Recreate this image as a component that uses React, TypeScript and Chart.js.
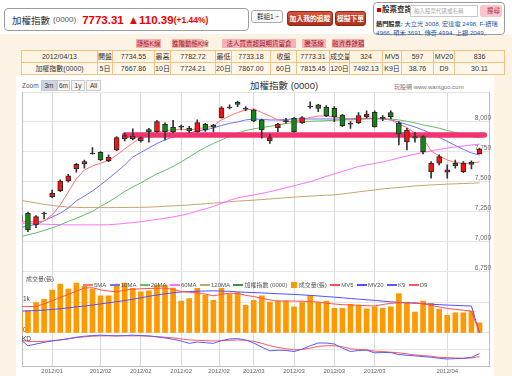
import React, { useEffect, useRef } from 'react';
import { Chart, registerables } from 'chart.js';

Chart.register(...registerables);

// ---------- data ----------
const openP = [7219, 7239, 7142, 7233, 7378, 7428, 7508, 7608, 7650, 7733, 7747, 7678, 7767, 7858, 7858, 7844, 7936, 7919, 7981, 7956, 7956, 7947, 7919, 7981, 7975, 8036, 8117, 8164, 8106, 8100, 8017, 7844, 7953, 8003, 8031, 7994, 8125, 8142, 8125, 8114, 8058, 7981, 7994, 8044, 8081, 8030, 8078, 7989, 7836, 7878, 7878, 7586, 7656, 7581, 7656, 7586, 7664, 7734.55];
const highP = [7235, 7248, 7219, 7248, 7433, 7517, 7564, 7656, 7683, 7786, 7753, 7725, 7878, 7908, 7942, 7875, 7947, 8014, 7992, 8014, 7975, 7964, 8017, 7989, 7981, 8128, 8142, 8175, 8128, 8108, 8025, 7897, 7989, 8031, 8036, 8044, 8169, 8147, 8136, 8128, 8064, 8003, 8078, 8092, 8092, 8053, 8092, 8003, 7947, 7914, 7886, 7669, 7725, 7642, 7683, 7669, 7675, 7782.72];
const lowP = [7160, 7086, 7119, 7192, 7369, 7419, 7497, 7581, 7614, 7731, 7678, 7669, 7760, 7842, 7850, 7831, 7831, 7914, 7850, 7911, 7933, 7911, 7914, 7922, 7917, 8031, 8108, 8128, 8094, 8003, 7864, 7822, 7919, 7989, 7914, 7989, 8114, 8086, 8044, 8003, 7961, 7947, 7986, 8031, 7956, 8011, 8025, 7808, 7767, 7831, 7733, 7531, 7642, 7531, 7614, 7578, 7608, 7733.18];
const closeP = [7175, 7100, 7211, 7241, 7406, 7508, 7550, 7647, 7669, 7741, 7683, 7708, 7869, 7886, 7883, 7869, 7917, 8003, 7919, 7919, 7964, 7925, 7994, 7936, 7956, 8119, 8125, 8147, 8114, 8008, 7933, 7869, 7983, 8011, 7919, 8036, 8133, 8114, 8053, 8044, 7969, 7989, 8053, 8064, 7961, 8038, 8044, 7900, 7933, 7864, 7753, 7656, 7711, 7600, 7636, 7656, 7647, 7773.31];

const ma5 = [7169, 7167, 7167, 7175, 7225, 7308, 7417, 7525, 7600, 7633, 7656, 7679, 7725, 7775, 7825, 7871, 7895, 7915, 7930, 7935, 7940, 7935, 7942, 7954, 7967, 8017, 8050, 8079, 8100, 8108, 8079, 8050, 8017, 8008, 8003, 8021, 8037, 8050, 8050, 8042, 8033, 8017, 8021, 8031, 8031, 8029, 8017, 7983, 7954, 7908, 7867, 7758, 7717, 7683, 7662, 7656, 7656, 7667.86];
const ma10 = [7119, 7133, 7146, 7175, 7208, 7239, 7283, 7342, 7383, 7425, 7475, 7529, 7583, 7642, 7708, 7746, 7783, 7821, 7850, 7875, 7892, 7908, 7925, 7933, 7950, 7971, 7988, 8000, 8017, 8025, 8021, 8017, 8017, 8021, 8025, 8025, 8025, 8025, 8025, 8025, 8025, 8027, 8029, 8031, 8029, 8025, 8017, 8000, 7979, 7958, 7933, 7904, 7871, 7838, 7804, 7771, 7742, 7724.21];
const ma20 = [7044, 7058, 7075, 7096, 7117, 7142, 7171, 7196, 7225, 7254, 7296, 7333, 7375, 7421, 7458, 7492, 7531, 7567, 7596, 7629, 7667, 7708, 7750, 7788, 7821, 7850, 7883, 7908, 7929, 7943, 7954, 7963, 7975, 7988, 7996, 8003, 8006, 8008, 8011, 8014, 8017, 8019, 8022, 8025, 8027, 8027, 8025, 8017, 8006, 7992, 7975, 7963, 7948, 7929, 7912, 7895, 7880, 7867.0];
const ma60 = [7156, 7154, 7150, 7148, 7145, 7143, 7142, 7142, 7142, 7142, 7142, 7143, 7148, 7154, 7161, 7169, 7178, 7188, 7197, 7208, 7221, 7237, 7258, 7275, 7296, 7321, 7346, 7367, 7380, 7392, 7404, 7419, 7435, 7452, 7468, 7486, 7502, 7525, 7547, 7567, 7588, 7608, 7629, 7642, 7654, 7667, 7683, 7700, 7717, 7731, 7746, 7758, 7771, 7782, 7792, 7800, 7808, 7815.45];
const ma120 = [7348, 7336, 7325, 7313, 7304, 7296, 7290, 7288, 7286, 7286, 7286, 7286, 7286, 7287, 7288, 7288, 7290, 7293, 7297, 7300, 7304, 7308, 7313, 7318, 7323, 7329, 7335, 7340, 7344, 7348, 7353, 7358, 7363, 7368, 7373, 7378, 7382, 7386, 7389, 7392, 7400, 7408, 7417, 7425, 7433, 7442, 7448, 7454, 7460, 7467, 7471, 7475, 7478, 7482, 7484, 7487, 7489, 7492.13];

const volume = [700, 733, 990, 1100, 1400, 1600, 1433, 1633, 1522, 1433, 1211, 1211, 1600, 1633, 1456, 1344, 1378, 1567, 1567, 1467, 1044, 1122, 1456, 1233, 1067, 1456, 1267, 1322, 900, 1067, 1211, 1011, 1044, 1044, 856, 990, 1233, 990, 1044, 800, 800, 933, 911, 789, 856, 800, 856, 1289, 990, 678, 1044, 967, 767, 578, 656, 656, 711, 324];
const mv5 = [856, 860, 870, 950, 1050, 1160, 1260, 1370, 1470, 1480, 1410, 1370, 1344, 1400, 1433, 1445, 1456, 1460, 1467, 1420, 1360, 1330, 1310, 1270, 1215, 1260, 1300, 1290, 1230, 1190, 1130, 1080, 1044, 1044, 1044, 1035, 1025, 1011, 970, 945, 925, 915, 900, 890, 880, 930, 965, 990, 990, 990, 950, 900, 850, 800, 770, 740, 711, 0];
const mv20 = [711, 720, 730, 745, 767, 790, 820, 850, 880, 910, 950, 985, 1022, 1060, 1100, 1150, 1200, 1240, 1280, 1315, 1340, 1355, 1365, 1372, 1378, 1370, 1360, 1345, 1330, 1322, 1310, 1295, 1282, 1270, 1262, 1245, 1228, 1210, 1190, 1170, 1150, 1125, 1105, 1085, 1065, 1040, 1018, 1000, 985, 970, 955, 940, 925, 910, 900, 890, 878, 0];
const k9 = [81, 62, 67, 72, 76, 79, 83, 87, 90, 92, 93, 92, 91, 92, 93, 92, 91, 88, 85, 81, 76, 69, 73, 71, 69, 77, 82, 83, 79, 70, 58, 47, 49, 48, 45, 52, 62, 70, 70, 67, 55, 45, 48, 49, 41, 42, 42, 36, 34, 32, 30, 28, 25, 23, 24, 25, 28, 38.76];
const d9 = [77, 75, 74, 75, 77, 79, 82, 86, 88, 90, 91, 91, 91, 91, 91, 91, 90, 89, 87, 85, 82, 79, 78, 77, 76, 77, 78, 79, 78, 75, 69, 62, 57, 53, 50, 51, 55, 60, 62, 62, 59, 53, 51, 50, 46, 45, 43, 41, 38, 35, 33, 31, 28, 27, 26, 25, 26, 30.11];

// drawn horizontal marker (user drawing)
const bandLevel = 7892;
const bandFrom = 13.0;
const bandTo = 57.6;

const xTickPos = [4, 10, 15, 20, 24.7, 29, 34, 39, 44, 53];
const xTickLabels = ['2012/01', '2012/02', '2012/02', '2012/02', '2012/02', '2012/03', '2012/03', '2012/03', '2012/03', '2012/04'];
const priceTicks = [6750, 7000, 7250, 7500, 7750, 8000, 8250];
const priceTickLabels = ['6,750', '7,000', '7,250', '7,500', '7,750', '8,000', ''];
const volTicks = [0, 1000];
const volTickLabels = ['0k', '1k'];
const kdTicks = [50];

const maNames = ['5MA', '10MA', '20MA', '60MA', '120MA'];
const maColors = ['#ff7373', '#7070ff', '#66bb66', '#ff70ff', '#c9a26e'];

const infoRow1 = ['2012/04/13', '開盤', '7734.55', '最高', '7782.72', '最低', '7733.18', '收盤', '7773.31', '成交量', '324', 'MV5', '597', 'MV20', '836'];
const infoRow2 = ['加權指數(0000)', '5日', '7667.86', '10日', '7724.21', '20日', '7867.00', '60日', '7815.45', '120日', '7492.13', 'K9日', '38.76', 'D9', '30.11'];
const infoColW = [75, 14, 41, 15, 44, 15, 38, 25, 32, 19, 32, 18, 31, 20, 49];

const tabs = ['靜態K線', '進階動態K線', '法人買賣超與期貨留倉', '騰落線', '融資券餘額'];
const tabLeft = [136, 172, 222, 302, 332];
const tabW = [25, 31, 74, 24, 32];

// ---------- layout helpers ----------
const PLOT_H = 275; // px
// [top px, bottom px] of each pane inside the plot
const pricePane = [0, 180];
const volPane = [180, 241];
const kdPane = [241, 275];
function paneRange(lo: number, hi: number, pane: number[]) {
  const per = (hi - lo) / (pane[1] - pane[0]);
  return { min: lo - (PLOT_H - pane[1]) * per, max: hi + pane[0] * per };
}
const priceR = paneRange(6750, 8250, pricePane);
const volR = paneRange(0, 2000, volPane);
const kdR = paneRange(0, 100, kdPane);

const FONT = '"Liberation Sans", Arial, "Noto Sans CJK TC", sans-serif';
const CJK = '"Liberation Sans", "Noto Sans CJK TC", sans-serif';

export default function App() {
  const ref = useRef<HTMLCanvasElement>(null);

  useEffect(() => {
    const idx = openP.map((_, i) => i);
    const pts = (arr: number[]) => arr.map((v, i) => ({ x: i, y: v }));
    const bodyColor = idx.map(i => {
      const diff = closeP[i] - openP[i];
      if (Math.abs(diff) < 9) return '#333333';
      return diff > 0 ? '#ff1010' : '#118811';
    });
    const grid = { color: '#e4e4e4', drawTicks: false };
    const lineDs = (label: string, data: number[], color: string, axis: string, order: number) => ({
      type: 'line' as const,
      label,
      data: pts(data),
      borderColor: color,
      borderWidth: 1,
      pointRadius: 0,
      tension: 0,
      yAxisID: axis,
      order,
    });
    const mas = [ma5, ma10, ma20, ma60, ma120];

    const chart = new Chart(ref.current!, {
      type: 'bar',
      data: {
        datasets: [
          {
            type: 'bar',
            label: 'wick',
            data: idx.map(i => ({ x: i, y: [lowP[i], highP[i]] })) as any,
            backgroundColor: '#333333',
            barThickness: 1,
            grouped: false,
            yAxisID: 'y',
            order: 2,
          },
          {
            type: 'bar',
            label: '加權指數 (0000)',
            data: idx.map(i => ({ x: i, y: [openP[i], closeP[i]] })) as any,
            backgroundColor: bodyColor,
            borderColor: '#2a2a2a',
            borderWidth: 1,
            borderSkipped: false,
            barThickness: 5,
            grouped: false,
            yAxisID: 'y',
            order: 1,
          },
          {
            type: 'line',
            label: 'marker',
            data: [{ x: bandFrom, y: bandLevel }, { x: bandTo, y: bandLevel }],
            borderColor: '#f2336f',
            borderWidth: 5.5,
            borderCapStyle: 'round',
            pointRadius: 0,
            yAxisID: 'y',
            order: 4,
          },
          ...mas.map((m, j) => lineDs(maNames[j], m, maColors[j], 'y', 6)),
          {
            type: 'bar',
            label: '成交量(張)',
            data: pts(volume) as any,
            backgroundColor: '#ff9900',
            barThickness: 5,
            grouped: false,
            yAxisID: 'yv',
            order: 9,
          },
          lineDs('MV5', mv5, '#ff5050', 'yv', 8),
          lineDs('MV20', mv20, '#5050ff', 'yv', 8),
          lineDs('K9', k9, '#5a5aff', 'yk', 8),
          lineDs('D9', d9, '#ff5a5a', 'yk', 8),
        ] as any,
      },
      options: {
        animation: false,
        responsive: false,
        maintainAspectRatio: false,
        events: [],
        layout: { padding: { top: 17, left: 4, right: 1, bottom: 0 } },
        plugins: { legend: { display: false }, tooltip: { enabled: false } },
        scales: {
          x: {
            type: 'linear',
            min: 0.26,
            max: 58.18,
            offset: false,
            grid: { color: '#dadada', drawTicks: false, offset: false },
            border: { color: '#bdbdbd' },
            ticks: {
              font: { size: 6, family: FONT },
              color: '#666',
              padding: 1,
              maxRotation: 0,
              autoSkip: false,
              callback: (_v: any, i: number) => xTickLabels[i],
            },
            afterBuildTicks: (s: any) => {
              s.ticks = xTickPos.map(v => ({ value: v }));
            },
          },
          y: {
            type: 'linear',
            position: 'right',
            min: priceR.min,
            max: priceR.max,
            grid,
            border: { display: true, color: '#bdbdbd' },
            ticks: {
              mirror: true,
              padding: 2,
              labelOffset: -4,
              font: { size: 6.5, family: FONT },
              color: '#666',
              callback: (_v: any, i: number) => priceTickLabels[i],
            },
            afterBuildTicks: (s: any) => {
              s.ticks = priceTicks.map(v => ({ value: v }));
            },
          },
          yv: {
            type: 'linear',
            position: 'left',
            min: volR.min,
            max: volR.max,
            grid,
            border: { display: true, color: '#bdbdbd' },
            ticks: {
              mirror: true,
              padding: 1,
              labelOffset: -3,
              font: { size: 6.5, family: FONT },
              color: '#444',
              callback: (_v: any, i: number) => volTickLabels[i],
            },
            afterBuildTicks: (s: any) => {
              s.ticks = volTicks.map(v => ({ value: v }));
            },
          },
          yk: {
            type: 'linear',
            position: 'left',
            min: kdR.min,
            max: kdR.max,
            grid,
            border: { display: false },
            ticks: { display: false },
            afterBuildTicks: (s: any) => {
              s.ticks = kdTicks.map(v => ({ value: v }));
            },
          },
        },
      } as any,
    });
    return () => chart.destroy();
  }, []);

  const legendItems = [
    ...maNames.map((n, j) => ({ name: n, color: maColors[j], square: false })),
    { name: '加權指數 (0000)', color: '#3a9a3a', square: false },
    { name: '成交量(張)', color: '#ff9900', square: true },
    { name: 'MV5', color: '#ff5050', square: false },
    { name: 'MV20', color: '#5050ff', square: false },
    { name: 'K9', color: '#5a5aff', square: false },
    { name: 'D9', color: '#ff5a5a', square: false },
  ];

  const abs = (l: number, t: number, w?: number, h?: number): React.CSSProperties => ({
    position: 'absolute', left: l, top: t, width: w, height: h, boxSizing: 'border-box',
  });

  const cell = (txt: string, j: number, r: number) => (
    <td key={j} style={{
      width: infoColW[j], padding: 0, border: '1px solid #efc386', textAlign: 'center',
      background: r === 0 ? '#fff4e2' : '#fff7ea', fontSize: 7, color: '#333', whiteSpace: 'nowrap',
      height: 11, lineHeight: '10px', overflow: 'hidden',
    }}>{txt}</td>
  );

  const zoomBtns = ['3m', '6m', '1y', 'All'];
  const zoomLeft = [41, 57, 71, 86];
  const zoomW = [16, 13, 14, 15];

  return (
    <div style={{ position: 'fixed', left: 0, top: 0, width: 512, height: 376, overflow: 'hidden', background: '#fff', fontFamily: CJK }}>
      {/* peach page background */}
      <div style={{ ...abs(0, 34, 512, 342), background: '#fdf3e4' }} />

      {/* header quote box */}
      <div style={{ ...abs(4, 8, 245, 23), border: '1px solid #9c9c9c', borderRadius: 4, background: '#fff', display: 'flex', alignItems: 'center', paddingLeft: 7, whiteSpace: 'nowrap' }}>
        <span style={{ fontSize: 9.5, color: '#333' }}>加權指數</span>
        <span style={{ fontSize: 8, color: '#555', marginLeft: 3, fontFamily: FONT }}>(0000)</span>
        <span style={{ fontSize: 11.5, color: '#e00', fontWeight: 'bold', marginLeft: 6, fontFamily: FONT }}>7773.31</span>
        <span style={{ fontSize: 11.5, color: '#e00', fontWeight: 'bold', marginLeft: 4, fontFamily: FONT }}>▲110.39</span>
        <span style={{ fontSize: 8.5, color: '#e00', fontWeight: 'bold', fontFamily: FONT }}>(+1.44%)</span>
      </div>

      {/* group select + buttons */}
      <div style={{ ...abs(251, 10, 32, 13), border: '1px solid #aaa', borderRadius: 3, background: '#fafafa', fontSize: 6.5, color: '#333', paddingLeft: 5, lineHeight: '11px', whiteSpace: 'nowrap' }}>群組1 ÷</div>
      <div style={{ ...abs(287, 11, 46, 15), borderRadius: 3, background: 'linear-gradient(#d9533a,#a9301c)', border: '1px solid #8d2a18', color: '#fff', fontSize: 6.8, fontWeight: 'bold', textAlign: 'center', lineHeight: '13px', whiteSpace: 'nowrap', overflow: 'hidden' }}>加入我的追蹤</div>
      <div style={{ ...abs(335, 11, 31, 15), borderRadius: 3, background: 'linear-gradient(#d9533a,#a9301c)', border: '1px solid #8d2a18', color: '#fff', fontSize: 6.8, fontWeight: 'bold', textAlign: 'center', lineHeight: '13px', whiteSpace: 'nowrap', overflow: 'hidden' }}>模擬下單</div>

      {/* stock search panel */}
      <div style={{ ...abs(373, 2, 132, 33), border: '1px solid #9c9c9c', borderRadius: 4, background: '#fff' }} />
      <div style={{ ...abs(377, 8, 4, 4), background: '#c00' }} />
      <div style={{ ...abs(382, 5, 28, 10), fontSize: 7.5, fontWeight: 'bold', color: '#333', whiteSpace: 'nowrap', lineHeight: '10px' }}>股票查詢</div>
      <div style={{ ...abs(410, 5, 68, 12), border: '1px solid #c8c8c8', background: '#fff', fontSize: 5.5, color: '#aaa', paddingLeft: 3, lineHeight: '10px', whiteSpace: 'nowrap' }}>輸入股票代碼或名稱</div>
      <div style={{ ...abs(480, 5, 22, 12), background: '#f8c6cf', borderRadius: 2, fontSize: 6.5, color: '#b2243a', textAlign: 'right', paddingRight: 2, lineHeight: '12px', whiteSpace: 'nowrap' }}>搜尋</div>
      <div style={{ ...abs(376, 19, 128, 9), fontSize: 6.2, lineHeight: '9px', whiteSpace: 'nowrap', color: '#2457a6', overflow: 'hidden' }}>
        <span style={{ color: '#223', fontWeight: 'bold' }}>熱門股票:</span> 大立光 3008, 宏達電 2498, F-譜瑞
      </div>
      <div style={{ ...abs(376, 28, 128, 9), fontSize: 6.2, lineHeight: '9px', whiteSpace: 'nowrap', color: '#2457a6', overflow: 'hidden' }}>
        4966, 碩禾 3691, 傳奇 4994, 上銀 2049,
      </div>

      {/* tabs */}
      {tabs.map((t, i) => (
        <div key={t} style={{ ...abs(tabLeft[i], 39, tabW[i], 9), background: '#f5b2b8', color: '#9b1b22', fontSize: 6.5, textAlign: 'center', lineHeight: '9px', whiteSpace: 'nowrap' }}>{t}</div>
      ))}

      {/* info table */}
      <table style={{ position: 'absolute', left: 21, top: 50, width: 468, borderCollapse: 'collapse', tableLayout: 'fixed', fontFamily: CJK }}>
        <tbody>
          <tr>{infoRow1.map((t, j) => cell(t, j, 0))}</tr>
          <tr>{infoRow2.map((t, j) => cell(t, j, 1))}</tr>
        </tbody>
      </table>

      {/* chart panel */}
      <div style={{ ...abs(16, 75, 478, 301), background: '#fff' }} />
      <div style={{ ...abs(22, 81, 20, 9), fontSize: 6.5, color: '#555', fontFamily: FONT, lineHeight: '9px' }}>Zoom</div>
      {zoomBtns.map((b, i) => (
        <div key={b} style={{ ...abs(zoomLeft[i], 80, zoomW[i], 11), border: '1px solid #c9c9c9', background: i === 0 ? '#c5d6ec' : '#f4f4f4', fontSize: 6.5, color: '#333', textAlign: 'center', lineHeight: '9px', fontFamily: FONT }}>{b}</div>
      ))}
      <div style={{ ...abs(250, 80, 80, 12), fontSize: 9.5, color: '#333', whiteSpace: 'nowrap', lineHeight: '12px' }}>加權指數 <span style={{ fontFamily: FONT }}>(0000)</span></div>
      <div style={{ ...abs(394, 83, 80, 8), fontSize: 6, color: '#777', whiteSpace: 'nowrap', lineHeight: '8px' }}>玩股網 www.wantgoo.com</div>

      <canvas ref={ref} width={478} height={301} style={{ position: 'absolute', left: 16, top: 75 }} />

      {/* pane labels and legend */}
      <div style={{ ...abs(26, 275, 40, 8), fontSize: 6, color: '#555', whiteSpace: 'nowrap', lineHeight: '8px' }}>成交量(張)</div>
      <div style={{ ...abs(22, 335, 20, 8), fontSize: 6.5, color: '#333', fontFamily: FONT, lineHeight: '8px' }}>KD</div>
      <div style={{ position: 'absolute', left: 83, top: 281, display: 'flex', alignItems: 'center', gap: 3.4, fontSize: 6, color: '#555', whiteSpace: 'nowrap', lineHeight: '8px' }}>
        {legendItems.map(it => (
          <span key={it.name} style={{ display: 'flex', alignItems: 'center' }}>
            <span style={{ display: 'inline-block', width: it.square ? 6 : 10, height: it.square ? 6 : 1.5, background: it.color, marginRight: it.square ? 2 : 1 }} />
            {it.name}
          </span>
        ))}
      </div>
    </div>
  );
}
